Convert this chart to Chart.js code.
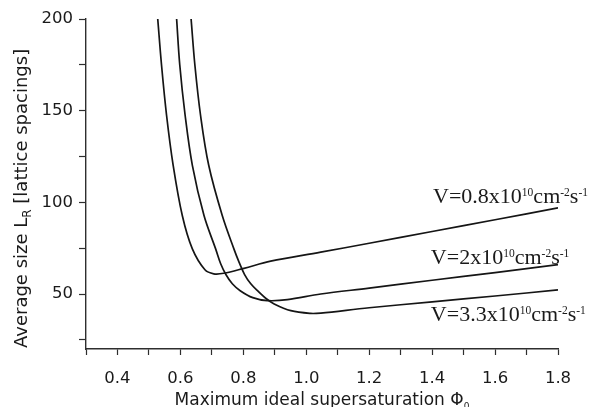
<!DOCTYPE html>
<html>
<head>
<meta charset="utf-8">
<script src="https://cdn.jsdelivr.net/npm/chart.js@4.4.1/dist/chart.umd.min.js"></script>
<style>
  html, body { margin: 0; padding: 0; background: #fff; }
  #wrap { width: 589px; height: 407px; }
</style>
</head>
<body>
<div id="wrap"><canvas id="sizeChart" width="589" height="407"></canvas></div>
<script>
// V = 0.8x10^10 cm^-2 s^-1
const phiSlow = [0.528, 0.540, 0.556, 0.577, 0.606, 0.638, 0.678, 0.706, 0.738, 0.802, 0.887, 1.046, 1.2, 1.4, 1.6, 1.8];
const sizeSlow = [200, 174.9, 147.5, 120.2, 92.8, 74.6, 63.2, 61.0, 61.3, 64.0, 67.9, 72.8, 77.7, 84.1, 90.5, 97.0];

// V = 2x10^10 cm^-2 s^-1
const phiMid = [0.588, 0.598, 0.615, 0.638, 0.675, 0.712, 0.728, 0.745, 0.765, 0.790, 0.830, 0.876, 0.940, 1.046, 1.2, 1.4, 1.6, 1.8];
const sizeMid = [200, 174.9, 147.5, 120.2, 92.8, 74.6, 66.5, 60.5, 55.6, 51.8, 48.0, 46.4, 46.9, 50.0, 53.2, 57.5, 61.7, 66.0];

// V = 3.3x10^10 cm^-2 s^-1
const phiFast = [0.634, 0.646, 0.664, 0.690, 0.733, 0.770, 0.787, 0.804, 0.823, 0.845, 0.871, 0.898, 0.951, 1.014, 1.046, 1.2, 1.4, 1.6, 1.8];
const sizeFast = [200, 174.9, 147.5, 120.2, 92.8, 74.6, 67.1, 60.6, 55.7, 51.8, 47.7, 44.6, 40.9, 39.4, 39.6, 42.5, 45.7, 48.9, 52.2];

const fluxMantissa = ['0.8', '2', '3.3'];
const labelPhi = [1.403, 1.396, 1.396];
const labelSize = [99.4, 66.6, 35.4];

const phiTicks = [0.3, 0.4, 0.5, 0.6, 0.7, 0.8, 0.9, 1.0, 1.1, 1.2, 1.3, 1.4, 1.5, 1.6, 1.7, 1.8];
const sizeTicks = [25, 50, 75, 100, 125, 150, 175, 200];

const xTitle = 'Maximum ideal supersaturation Φ';
const yTitleA = 'Average size L';
const yTitleB = ' [lattice spacings]';

const inkColor = '#1a1a1a';
const axisColor = '#2e2e2e';

const makeSet = (phi, size) => ({
    data: phi.map((p, i) => ({ x: p, y: size[i] })),
    borderColor: '#151515',
    borderWidth: 1.7,
    pointRadius: 0,
    fill: false,
    tension: 0.35
});

// draws text pieces one after another, some raised or lowered
const drawPieces = (ctx, pieces, x, y) => {
    pieces.forEach(p => {
        ctx.font = p.font;
        ctx.fillText(p.text, x, y + (p.shift || 0));
        x += ctx.measureText(p.text).width;
    });
};

const textPlugin = {
    id: 'textPlugin',
    afterDraw(chart) {
        const { ctx, chartArea, scales } = chart;
        ctx.save();
        ctx.fillStyle = inkColor;
        ctx.textAlign = 'left';
        ctx.textBaseline = 'alphabetic';

        // curve labels
        const big = '22px "Liberation Serif", "Times New Roman", serif';
        const small = '11.5px "Liberation Serif", "Times New Roman", serif';
        fluxMantissa.forEach((m, i) => {
            const px = scales.x.getPixelForValue(labelPhi[i]);
            const py = scales.y.getPixelForValue(labelSize[i]);
            drawPieces(ctx, [
                { text: 'V=' + m + 'x10', font: big },
                { text: '10', font: small, shift: -7 },
                { text: 'cm', font: big },
                { text: '-2', font: small, shift: -7 },
                { text: 's', font: big },
                { text: '-1', font: small, shift: -7 }
            ], px, py);
        });

        // x title
        const xf = '17px "DejaVu Sans"';
        const xsf = '9px "DejaVu Sans"';
        ctx.font = xf;
        let w = ctx.measureText(xTitle).width;
        ctx.font = xsf;
        w += ctx.measureText('0').width;
        const cx = (chartArea.left + chartArea.right) / 2;
        drawPieces(ctx, [
            { text: xTitle, font: xf },
            { text: '0', font: xsf, shift: 4 }
        ], cx - w / 2, 405);

        // y title
        ctx.translate(27, chartArea.bottom - 1);
        ctx.rotate(-Math.PI / 2);
        drawPieces(ctx, [
            { text: yTitleA, font: '18px "DejaVu Sans"' },
            { text: 'R', font: '12px "DejaVu Sans"', shift: 4 },
            { text: yTitleB, font: '18px "DejaVu Sans"' }
        ], 0, 0);
        ctx.restore();
    }
};

const tickFont = { family: 'DejaVu Sans', size: 16.5 };

new Chart(document.getElementById('sizeChart'), {
    type: 'line',
    data: {
        datasets: [
            makeSet(phiSlow, sizeSlow),
            makeSet(phiMid, sizeMid),
            makeSet(phiFast, sizeFast)
        ]
    },
    options: {
        responsive: false,
        animation: false,
        layout: { padding: { top: 19, right: 31, left: 0, bottom: 0 } },
        plugins: { legend: { display: false }, tooltip: { enabled: false } },
        scales: {
            x: {
                type: 'linear',
                min: 0.3,
                max: 1.8,
                afterBuildTicks: s => { s.ticks = phiTicks.map(v => ({ value: v })); },
                afterFit: s => { s.height = 58; },
                ticks: {
                    autoSkip: false,
                    maxRotation: 0,
                    padding: 14,
                    color: inkColor,
                    font: tickFont,
                    callback: v => (v > 0.35 && Math.round(v * 10) % 2 === 0) ? v.toFixed(1) : ''
                },
                grid: { drawOnChartArea: false, tickLength: 6, tickColor: axisColor, tickWidth: 1.2 },
                border: { color: axisColor, width: 1.4 }
            },
            y: {
                type: 'linear',
                min: 20,
                max: 200,
                afterBuildTicks: s => { s.ticks = sizeTicks.map(v => ({ value: v })); },
                afterFit: s => { s.width = 86; },
                ticks: {
                    autoSkip: false,
                    padding: 6,
                    color: inkColor,
                    font: tickFont,
                    callback: v => v % 50 === 0 ? String(v) : ''
                },
                grid: { drawOnChartArea: false, tickLength: 7, tickColor: axisColor, tickWidth: 1.2 },
                border: { color: axisColor, width: 1.4 }
            }
        }
    },
    plugins: [textPlugin]
});
</script>
</body>
</html>
